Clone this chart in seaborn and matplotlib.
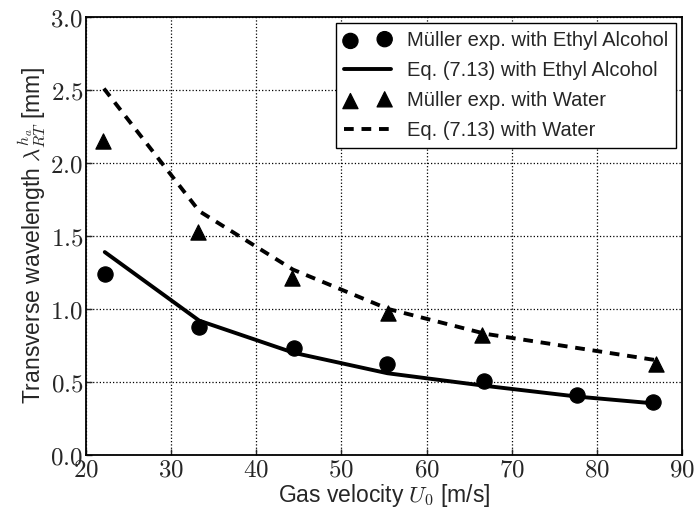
import numpy as np
import matplotlib
matplotlib.use("Agg")
import matplotlib.pyplot as plt
import seaborn as sns

u_eth = [22.2, 33.3, 44.4, 55.4, 66.7, 77.7, 86.6]
lam_eth = [1.24, 0.88, 0.73, 0.62, 0.51, 0.41, 0.36]
u_wat = [22.0, 33.1, 44.2, 55.5, 66.5, 86.9]
lam_wat = [2.15, 1.53, 1.21, 0.97, 0.82, 0.62]

# Eq. (7.13) predictions
u_eq_eth = [22.2, 33.3, 44.4, 55.4, 66.7, 77.7, 86.6]
eq_eth = [1.39, 0.92, 0.70, 0.56, 0.475, 0.40, 0.354]
u_eq_wat = [22.1, 33.3, 44.3, 55.5, 66.9, 86.9]
eq_wat = [2.51, 1.67, 1.27, 1.00, 0.83, 0.65]

x_ticks = [20, 30, 40, 50, 60, 70, 80, 90]
y_ticks = [0.0, 0.5, 1.0, 1.5, 2.0, 2.5, 3.0]

sns.set_style("ticks")
plt.rcParams['font.family'] = ['Liberation Sans', 'DejaVu Sans']
plt.rcParams['mathtext.fontset'] = 'cm'

fig = plt.figure(figsize=(6.96, 5.11), dpi=100)
ax = fig.add_axes([0.1236, 0.1096, 0.8564, 0.8571])

sns.scatterplot(x=u_eth, y=lam_eth, marker='o', s=120, color='black',
                edgecolor='black', ax=ax, label='Müller exp. with Ethyl Alcohol', zorder=3)
sns.lineplot(x=u_eq_eth, y=eq_eth, color='black', lw=2.8, ax=ax,
             label='Eq. (7.13) with Ethyl Alcohol', zorder=2)
sns.scatterplot(x=u_wat, y=lam_wat, marker='^', s=120, color='black',
                edgecolor='black', ax=ax, label='Müller exp. with Water', zorder=3)
sns.lineplot(x=u_eq_wat, y=eq_wat, color='black', lw=2.8, ax=ax,
             label='Eq. (7.13) with Water', zorder=2)
ax.lines[-1].set_dashes([2.5, 2])

ax.set_xlim(20, 90)
ax.set_ylim(0, 3.0)
ax.set_xticks(x_ticks)
ax.set_yticks(y_ticks)
ax.set_xticklabels([f'${t}$' for t in x_ticks], fontsize=18)
ax.set_yticklabels([f'${t:.1f}$' for t in y_ticks], fontsize=18)
ax.tick_params(direction='in', length=4, width=1, pad=2)
ax.grid(True, color='black', linestyle=':', linewidth=0.9)
for sp in ax.spines.values():
    sp.set_linewidth(1.3)
    sp.set_color('black')

ax.set_xlabel(r'Gas velocity $U_0$ [m/s]', fontsize=16.5, labelpad=0)
ax.set_ylabel(r'Transverse wavelength $\lambda_{RT}^{h_a}$ [mm]', fontsize=16.5, labelpad=2)

h, l = ax.get_legend_handles_labels()
leg = ax.legend(h, l, loc='upper right', fontsize=14.5, scatterpoints=2,
                fancybox=False, framealpha=1, edgecolor='black',
                borderpad=0.4, labelspacing=0.55, handlelength=2.3,
                handletextpad=0.8, borderaxespad=0,
                bbox_to_anchor=(0.99, 0.986))
leg.get_frame().set_linewidth(1.0)

fig.savefig('out.png', dpi=100)
